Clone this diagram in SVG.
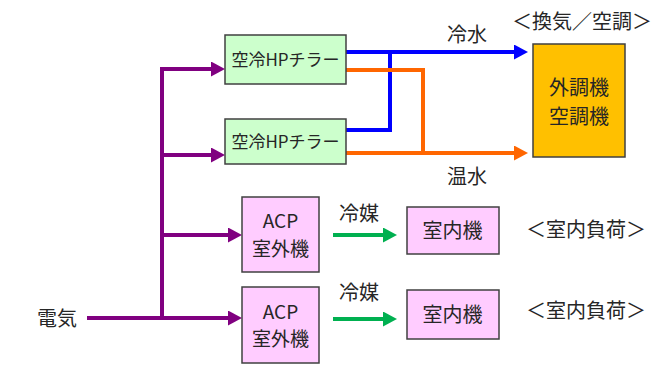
<svg xmlns="http://www.w3.org/2000/svg" width="671" height="366" viewBox="0 0 671 366">
<style>
text{font-family:"Noto Sans CJK JP","Noto Sans",sans-serif;fill:#262626;font-size:20px;text-anchor:middle}
.sm{font-size:17px}
.ac19{font-size:19px}
.box{stroke:#404040;stroke-width:1.5}
.ch{fill:#CCFFCC}
.ac{fill:#FFCCFF}
.ahu{fill:#FFC000}
.ln{fill:none;stroke-width:4}
.p{stroke:#800080}
.b{stroke:#0000FF}
.o{stroke:#FF6600}
.g{stroke:#00B050}
</style>
<defs>
<marker id="ap" markerUnits="userSpaceOnUse" markerWidth="15" markerHeight="15" refX="4" refY="7.5" orient="auto"><path d="M0,0 L14,7.5 L0,15 z" fill="#800080"/></marker>
<marker id="ab" markerUnits="userSpaceOnUse" markerWidth="15" markerHeight="15" refX="4" refY="7.5" orient="auto"><path d="M0,0 L14,7.5 L0,15 z" fill="#0000FF"/></marker>
<marker id="ao" markerUnits="userSpaceOnUse" markerWidth="15" markerHeight="15" refX="4" refY="7.5" orient="auto"><path d="M0,0 L14,7.5 L0,15 z" fill="#FF6600"/></marker>
<marker id="ag" markerUnits="userSpaceOnUse" markerWidth="15" markerHeight="15" refX="4" refY="7.5" orient="auto"><path d="M0,0 L14,7.5 L0,15 z" fill="#00B050"/></marker>
</defs>
<g id="connectors">
<path class="ln p" d="M162,318 V69 H215" marker-end="url(#ap)"/>
<path class="ln p" d="M162,155 H215" marker-end="url(#ap)"/>
<path class="ln p" d="M162,235 H232" marker-end="url(#ap)"/>
<path class="ln p" d="M87,318 H232" marker-end="url(#ap)"/>
<path class="ln b" d="M346,52 H518" marker-end="url(#ab)"/>
<path class="ln b" d="M346,130 H390 V52"/>
<path class="ln o" d="M346,70 H423 V153"/>
<path class="ln o" d="M346,153 H518" marker-end="url(#ao)"/>
<path class="ln g" d="M333,235 H387" marker-end="url(#ag)"/>
<path class="ln g" d="M333,319 H387" marker-end="url(#ag)"/>
</g>
<g id="chiller1"><rect class="box ch" x="225" y="35" width="121" height="49"/><text class="sm" x="285.5" y="66">空冷HPチラー</text></g>
<g id="chiller2"><rect class="box ch" x="225" y="119" width="121" height="45"/><text class="sm" x="285.5" y="148">空冷HPチラー</text></g>
<g id="ahu"><rect class="box ahu" x="533" y="44" width="92" height="113"/><text x="579" y="95">外調機</text><text x="579" y="124">空調機</text></g>
<g id="acp1"><rect class="box ac" x="242" y="197" width="77" height="75"/><text class="ac19" x="280.5" y="228">ACP</text><text class="ac19" x="280.5" y="255.5">室外機</text></g>
<g id="acp2"><rect class="box ac" x="242" y="287" width="77" height="76"/><text class="ac19" x="280.5" y="318.5">ACP</text><text class="ac19" x="280.5" y="346">室外機</text></g>
<g id="indoor1"><rect class="box ac" x="407" y="207" width="92" height="47"/><text x="452.5" y="237.5">室内機</text></g>
<g id="indoor2"><rect class="box ac" x="407" y="290" width="92" height="49"/><text x="452.5" y="321.5">室内機</text></g>
<g id="labels">
<text x="467" y="42">冷水</text>
<text x="467" y="184">温水</text>
<text x="582" y="29">＜換気／空調＞</text>
<text x="359" y="221">冷媒</text>
<text x="359" y="300">冷媒</text>
<text x="586" y="237">＜室内負荷＞</text>
<text x="586" y="318">＜室内負荷＞</text>
<text x="57" y="326">電気</text>
</g>
</svg>
